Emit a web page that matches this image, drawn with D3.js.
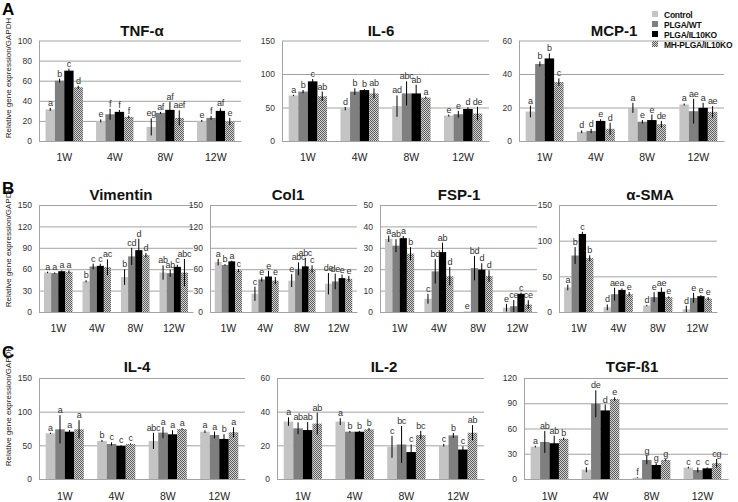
<!DOCTYPE html>
<html><head><meta charset="utf-8">
<script src="https://cdn.jsdelivr.net/npm/d3@7"></script>
<style>
body{margin:0;background:#fff;}
svg{display:block;font-family:"Liberation Sans",Arial,sans-serif;}
</style></head><body>
<svg id="c" width="738" height="502"></svg>
<script>
// ---------- DATA ----------
const seriesNames = ["Control","PLGA/WT","PLGA/IL10KO","MH-PLGA/IL10KO"];
const weeks = ["1W","4W","8W","12W"];

const tnfMean = [[31.5,60,70,53.5],[20,26.6,29,24],[14,28,31,23],[20,23,30,19.5]];
const tnfErr  = [[1.5,2,2,1.5],[1.5,5.5,2,1.3],[8.5,1,8,7.5],[1,2,2.5,3.5]];
const tnfLet  = [["a","b","c","d"],["e","f","f","f"],["eg","af","af","aef"],["e","f","af","e"]];
const tnfTicks = [0,20,40,60,80,100];

const il6Mean = [[68,73.7,89,66.8],[48.3,73.7,76,71],[52,71,71,64.8],[38,40,47.8,41]];
const il6Err  = [[1,2.5,3.5,7],[2.5,5,1.5,7.5],[16,18,13,1.5],[1.5,5,2.5,10]];
const il6Let  = [["a","b","c","ab"],["d","b","b","ab"],["ad","abc","ab","a"],["e","e","d","de"]];
const il6Ticks = [0,50,100,150];

const mcpMean = [[17.6,46,49.3,35.2],[5.5,6,12,7.3],[19.8,11.5,12.5,10],[21.8,17.8,19.8,17.4]];
const mcpErr  = [[3.5,1.5,3,2.2],[0.8,1.3,1,3.6],[3,1,3.3,2],[0.6,7.4,3,3.4]];
const mcpLet  = [["a","b","b","c"],["d","d","e","d"],["a","e","e","de"],["a","ae","a","ae"]];
const mcpTicks = [0,20,40,60];

const vimMean = [[55.5,54.5,57.2,56.3],[43,63.8,64.7,62.8],[49,78,86.7,79.7],[55.3,54.4,63.3,55.3]];
const vimErr  = [[1,1,1,2],[1.5,4,3,11],[11,12,16,3],[10,5,3,19]];
const vimLet  = [["a","a","a","a"],["b","c","c","ac"],["b","cd","d","d"],["ab","ab","c","abc"]];
const vimTicks = [0,30,60,90,120,150];

const colMean = [[70,66,71,58.2],[25.6,45.6,49.8,44],[44,60.5,64,60.5],[39.6,42.8,47.5,46.6]];
const colErr  = [[4.6,1,1,2],[10,3,8,5],[9,9,12,5],[15,11,5,4]];
const colLet  = [["a","b","a","c"],["c","e","e","e"],["e","abc","abc","c"],["de","de","e","e"]];
const colTicks = [0,30,60,90,120,150];

const fspMean = [[34.2,31,34.5,27.3],[6.2,19,28,16.7],[0.3,20.5,19.8,16.8],[2,2.7,8.5,3.5]];
const fspErr  = [[1.5,3,1,3],[2.3,5.7,4.4,4.3],[0,5.7,3,2.7],[1.8,2.9,0.6,2]];
const fspLet  = [["a","ab","a","b"],["c","bd","ab","d"],["e","bd","d","d"],["e","ce","c","ce"]];
const fspTicks = [0,10,20,30,40,50];

const smaMean = [[34.4,79.2,109.4,75.5],[6.6,25,31,25],[9,20.8,28.3,20.8],[3.8,19.8,22.2,18.9]];
const smaErr  = [[4,11.8,3,4],[4,9,2,3],[1,7,6,1],[5,7,1.5,2]];
const smaLet  = [["a","b","c","b"],["d","ae","a","e"],["d","e","ae","e"],["d","e","e","e"]];
const smaTicks = [0,50,100,150];

const il4Mean = [[67.9,73.8,70.3,73.8],[56.6,52,49.2,52],[56.6,68.9,66.4,74.3],[70.3,65.4,59.5,69.4]];
const il4Err  = [[1,21,2.5,13.5],[1.5,2.5,1,1],[12,8.5,6,1],[2,5,7,7.5]];
const il4Let  = [["a","a","a","a"],["b","c","c","c"],["abc","a","a","a"],["a","a","b","a"]];
const il4Ticks = [0,50,100,150];

const il2Mean = [[34.1,30.1,29.1,32.9],[34.1,28.1,28.1,29.5],[19.1,20.5,16,26.1],[20.1,25.9,17.5,27.5]];
const il2Err  = [[2.5,3.5,4.7,6.5],[2,0.5,0.5,0.8],[6.5,11,4.5,2.5],[0.8,1.5,2,4.5]];
const il2Let  = [["a","ab","ab","ab"],["a","b","b","b"],["c","bc","c","bc"],["c","b","c","ab"]];
const il2Ticks = [0,20,40,60];

const tgfMean = [[38.5,44,42.5,47.7],[11,89.4,81.5,95],[1.5,22.6,16.7,22.6],[13.5,10.7,12.7,18.7]];
const tgfErr  = [[1,13,9,1.5],[3,16,7,2],[0.5,5,2,1],[1,3,1,5]];
const tgfLet  = [["a","ab","ab","b"],["c","de","d","e"],["f","g","g","g"],["c","c","c","cg"]];
const tgfTicks = [0,30,60,90,120];

const yTitle = "Relative gene expression/GAPDH";

// ---------- LAYOUT ----------
const panels = [
  {title:"TNF-α", mean:tnfMean, err:tnfErr, let:tnfLet, ticks:tnfTicks, x0:39,  x1:241, yt:40.5, yb:141, tx:142, ty:36},
  {title:"IL-6",  mean:il6Mean, err:il6Err, let:il6Let, ticks:il6Ticks, x0:282, x1:489, yt:40.5, yb:141, tx:381, ty:36},
  {title:"MCP-1", mean:mcpMean, err:mcpErr, let:mcpLet, ticks:mcpTicks, x0:519, x1:724, yt:40.5, yb:141, tx:614, ty:36},
  {title:"Vimentin", mean:vimMean, err:vimErr, let:vimLet, ticks:vimTicks, x0:39,  x1:193, yt:205, yb:312, tx:121, ty:200},
  {title:"Col1",  mean:colMean, err:colErr, let:colLet, ticks:colTicks, x0:210, x1:357, yt:205, yb:312, tx:288, ty:200},
  {title:"FSP-1", mean:fspMean, err:fspErr, let:fspLet, ticks:fspTicks, x0:380, x1:537, yt:205, yb:312, tx:459, ty:200},
  {title:"α-SMA", mean:smaMean, err:smaErr, let:smaLet, ticks:smaTicks, x0:559, x1:717, yt:205, yb:312, tx:650, ty:200},
  {title:"IL-4",  mean:il4Mean, err:il4Err, let:il4Let, ticks:il4Ticks, x0:39,  x1:245, yt:378, yb:479, tx:137, ty:372},
  {title:"IL-2",  mean:il2Mean, err:il2Err, let:il2Let, ticks:il2Ticks, x0:277, x1:484, yt:378, yb:479, tx:384, ty:372},
  {title:"TGF-ß1",mean:tgfMean, err:tgfErr, let:tgfLet, ticks:tgfTicks, x0:524, x1:728, yt:378, yb:479, tx:632, ty:372}
];

const svg = d3.select("#c");
const defs = svg.append("defs");
const pat = defs.append("pattern").attr("id","hatch").attr("patternUnits","userSpaceOnUse").attr("width",2).attr("height",2);
pat.append("rect").attr("width",2).attr("height",2).attr("fill","#d2d2d2");
pat.append("rect").attr("x",0).attr("y",0).attr("width",1).attr("height",1).attr("fill","#5e5e5e");
pat.append("rect").attr("x",1).attr("y",1).attr("width",1).attr("height",1).attr("fill","#5e5e5e");

const color = d3.scaleOrdinal().domain(seriesNames).range(["#c4c4c4","#7f7f7f","#000000","url(#hatch)"]);
const gridCol = "#a3a3a3";

function drawPanel(p){
  const g = svg.append("g");
  const x = d3.scaleBand().domain(weeks).range([p.x0,p.x1]).paddingInner(0.26).paddingOuter(0.13);
  const xs = d3.scaleBand().domain(seriesNames).range([0,x.bandwidth()]);
  const y = d3.scaleLinear().domain([0,d3.max(p.ticks)]).range([p.yb,p.yt]);

  const ya = g.append("g").attr("transform",`translate(${p.x0},0)`)
    .call(d3.axisLeft(y).tickValues(p.ticks).tickSize(-(p.x1-p.x0)).tickSizeOuter(0).tickPadding(7));
  ya.select(".domain").attr("stroke",gridCol);
  ya.selectAll(".tick line").attr("stroke",gridCol);
  ya.selectAll(".tick text").attr("font-size",8.5).attr("fill","#333").attr("font-family","Liberation Sans, Arial, sans-serif");

  const rows = weeks.flatMap((w,i)=>seriesNames.map((s,j)=>({w,s,m:p.mean[i][j],e:p.err[i][j],l:p.let[i][j]})));
  g.selectAll("rect.bar").data(rows).join("rect").attr("class","bar")
    .attr("x",d=>x(d.w)+xs(d.s)).attr("width",xs.bandwidth())
    .attr("y",d=>y(d.m)).attr("height",d=>y(0)-y(d.m))
    .attr("fill",d=>color(d.s));
  g.selectAll("line.err").data(rows.filter(d=>d.e>0)).join("line").attr("class","err")
    .attr("x1",d=>x(d.w)+xs(d.s)+xs.bandwidth()/2).attr("x2",d=>x(d.w)+xs(d.s)+xs.bandwidth()/2)
    .attr("y1",d=>y(Math.max(0,d.m-d.e))).attr("y2",d=>y(d.m+d.e))
    .attr("stroke","#000").attr("stroke-width",1);
  g.selectAll("text.lt").data(rows).join("text").attr("class","lt")
    .attr("x",d=>x(d.w)+xs(d.s)+xs.bandwidth()/2).attr("y",d=>y(d.m+d.e)-2)
    .attr("text-anchor","middle").attr("font-size",9).attr("letter-spacing",-0.3).attr("fill","#333").text(d=>d.l);

  const xa = g.append("g").attr("transform",`translate(0,${p.yb})`)
    .call(d3.axisBottom(x).tickSize(0).tickSizeOuter(0));
  xa.select(".domain").attr("stroke",gridCol);
  xa.selectAll(".tick text").attr("y",p.yb>400?21:19.5).attr("dy",0).attr("font-size",10.5).attr("fill","#222")
    .attr("font-family","Liberation Sans, Arial, sans-serif");

  g.append("text").attr("x",p.tx).attr("y",p.ty).attr("text-anchor","middle")
    .attr("font-size",15).attr("font-weight","bold").attr("fill","#111").text(p.title);
}
panels.forEach(drawPanel);

// panel letters
const rowLabels = [{t:"A",y:15},{t:"B",y:194},{t:"C",y:358}];
svg.selectAll("text.rl").data(rowLabels).join("text").attr("class","rl")
  .attr("x",2).attr("y",d=>d.y).attr("font-size",17).attr("font-weight","bold").attr("fill","#000").text(d=>d.t);

// y titles
const yTitleCenters = [78,247,406];
svg.selectAll("text.yt").data(yTitleCenters).join("text").attr("class","yt")
  .attr("transform",d=>`translate(11,${d}) rotate(-90)`).attr("text-anchor","middle")
  .attr("font-size",8).attr("fill","#222").text(yTitle);

// legend
const lg = svg.append("g");
lg.selectAll("rect").data(seriesNames).join("rect")
  .attr("x",652).attr("y",(d,i)=>11+i*10).attr("width",6).attr("height",6).attr("fill",d=>color(d));
lg.selectAll("text").data(seriesNames).join("text")
  .attr("x",664).attr("y",(d,i)=>17.5+i*10).attr("font-size",8.5).attr("letter-spacing",-0.25)
  .attr("font-weight","bold").attr("fill","#111").text(d=>d);
</script>
</body></html>
